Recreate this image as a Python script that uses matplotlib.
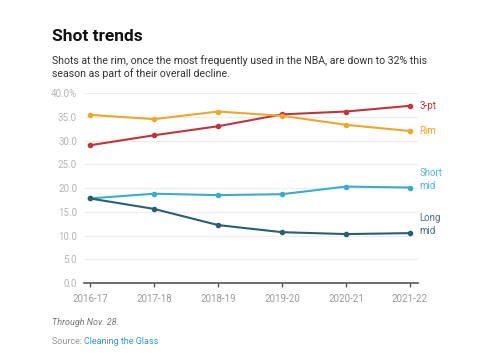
import matplotlib
matplotlib.use("Agg")
import matplotlib.pyplot as plt

seasons = ["2016-17", "2017-18", "2018-19", "2019-20", "2020-21", "2021-22"]
three_pt = [29.0, 31.1, 33.0, 35.5, 36.1, 37.3]
rim = [35.4, 34.5, 36.1, 35.2, 33.3, 32.0]
short_mid = [17.8, 18.8, 18.5, 18.7, 20.3, 20.1]
long_mid = [17.8, 15.6, 12.2, 10.7, 10.3, 10.5]
y_ticks = [0, 5, 10, 15, 20, 25, 30, 35, 40]
y_tick_labels = ["0.0", "5.0", "10.0", "15.0", "20.0", "25.0", "30.0", "35.0", "40.0%"]

series = [
    ("3-pt", three_pt, "#c0343c", "#c0343c", 0),
    ("Rim", rim, "#f0a52c", "#f0a52c", 0),
    ("Short\nmid", short_mid, "#3aaccc", "#5ab4d2", 6),
    ("Long\nmid", long_mid, "#2a5f70", "#50707c", 6),
]

plt.rcParams["font.family"] = ["Roboto", "DejaVu Sans"]

fig = plt.figure(figsize=(5, 3.62), dpi=100)
ax = fig.add_axes([0.168, 0.2182, 0.668, 0.5249])

x = list(range(len(seasons)))
for label, vals, color, tcolor, dy in series:
    ax.plot(x, vals, color=color, lw=1.5, marker="o", ms=3, zorder=3)
    ax.annotate(label, (x[-1], vals[-1]), xytext=(7, dy), textcoords="offset points",
                ha="left", va="center", fontsize=7, color=tcolor, linespacing=1.4)

ax.set_xlim(-0.094, 5.125)
ax.set_ylim(0, 40)
ax.set_xticks(x)
ax.set_xticklabels(seasons, fontsize=7, color="#999999")
ax.set_yticks(y_ticks)
ax.set_yticklabels(y_tick_labels, fontsize=7, color="#b5b5b5")
ax.tick_params(axis="y", length=0, pad=5)
ax.tick_params(axis="x", length=3, width=1, color="#555555", pad=5)
ax.grid(axis="y", color="#ececec", lw=0.8, zorder=0)
for s in ["top", "right", "left"]:
    ax.spines[s].set_visible(False)
ax.spines["bottom"].set_color("#555555")
ax.spines["bottom"].set_linewidth(1.2)
ax.set_axisbelow(True)

fig.text(0.104, 0.898, "Shot trends", fontsize=12.5, fontweight="bold", color="#111111", va="center")
fig.text(0.104, 0.834, "Shots at the rim, once the most frequently used in the NBA, are down to 32% this",
         fontsize=7.6, color="#333333", va="center")
fig.text(0.104, 0.797, "season as part of their overall decline.", fontsize=7.6, color="#333333", va="center")
fig.text(0.104, 0.108, "Through Nov. 28.", fontsize=6.5, style="italic", color="#777777", va="center")
t = fig.text(0.104, 0.058, "Source: ", fontsize=6.5, color="#999999", va="center")
fig.canvas.draw()
bb = t.get_window_extent()
x1 = fig.transFigure.inverted().transform((bb.x1, bb.y0))[0]
fig.text(x1, 0.058, "Cleaning the Glass", fontsize=6.5, color="#3a96c8", va="center")

fig.savefig("out.png", dpi=100, facecolor="white")
